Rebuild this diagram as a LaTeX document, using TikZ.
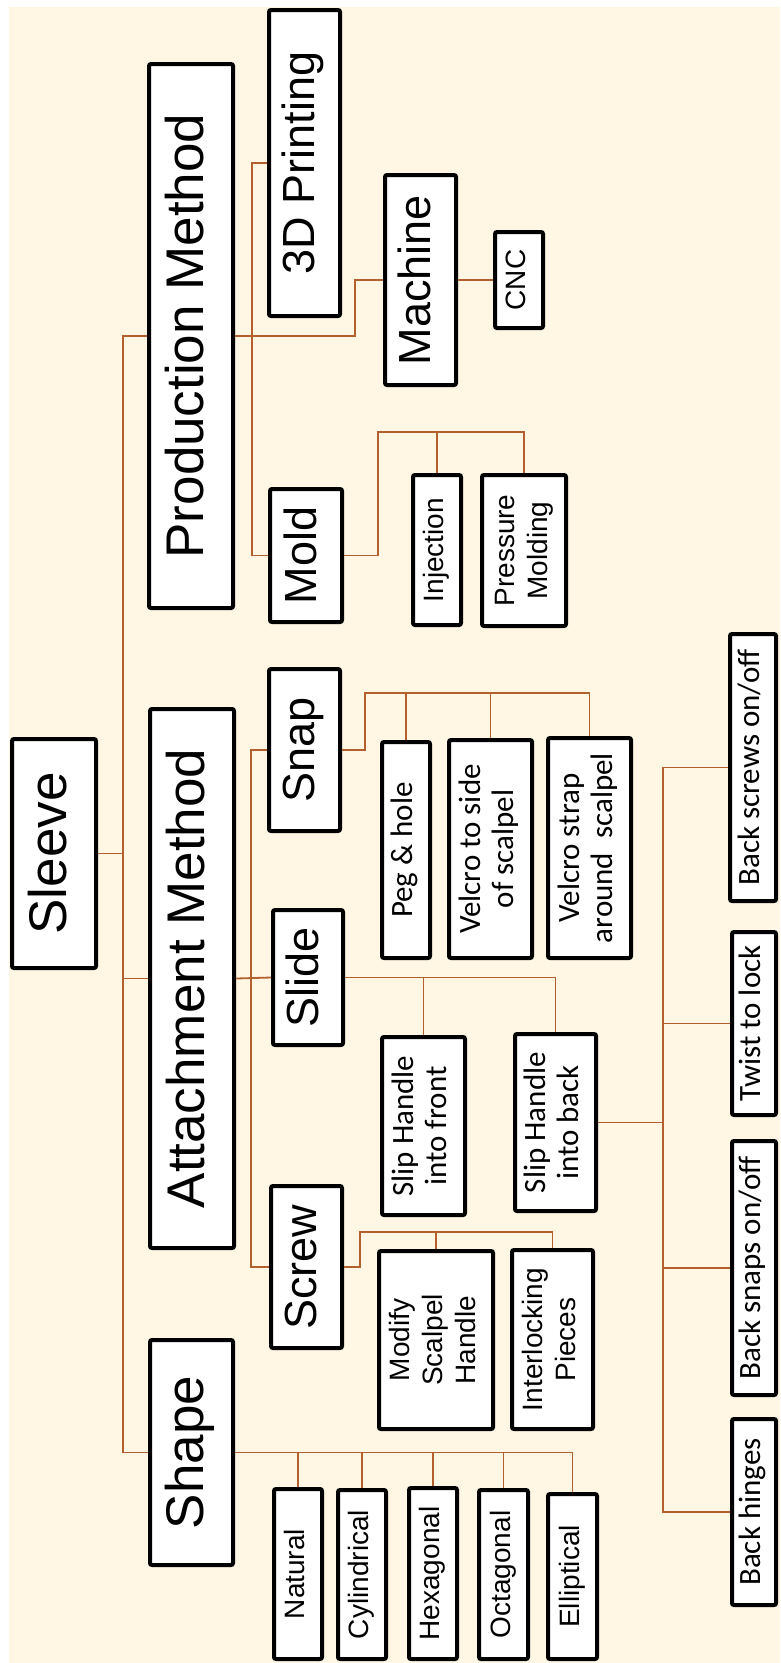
\documentclass[tikz,border=0pt]{standalone}
\usepackage{fontspec}
\setmainfont{Liberation Sans}
\newfontfamily\calfont{Carlito}
\usepackage{tikz}
\usetikzlibrary{positioning}
\definecolor{cream}{HTML}{FFF7E4}
\definecolor{linkc}{HTML}{B4602E}
\newcommand{\vlabel}[1]{\rotatebox{90}{\begin{tabular}{@{}c@{}}#1\end{tabular}}}
\tikzset{
  box/.style={draw=black, fill=white, line width=4pt, rounded corners=2pt, inner sep=0pt},
  title/.style={box, font=\fontsize{53}{60}\selectfont},
  sub/.style={box, font=\fontsize{45}{52}\selectfont},
  leaf/.style={box, font=\fontsize{28}{33}\selectfont},
  cleaf/.style={box, font=\calfont\fontsize{31}{33}\selectfont},
  link/.style={draw=linkc, line width=1.8pt}
}
\begin{document}
\begin{tikzpicture}[x=1pt, y=-1pt]
		\useasboundingbox (0,0) rectangle (780,1663);
		\fill[cream] (9,7) rectangle (780,1663);
		% level 0 and 1
		\node[title, minimum width=84pt, minimum height=229pt] (Sleeve) at (54,853.5) {\vlabel{Sleeve}};
		\node[title, minimum width=84pt, minimum height=544pt] (Prod) at (191,336) {\vlabel{Production Method}};
		\node[title, minimum width=84pt, minimum height=539pt] (Attach) at (192,978.5) {\vlabel{Attachment Method}};
		\node[title, minimum width=83pt, minimum height=225pt] (Shape) at (191.5,1452.5) {\vlabel{Shape}};
		% production
		\node[sub, minimum width=71pt, minimum height=306pt] (Print) at (304.5,163) {\vlabel{3D Printing}};
		\node[sub, minimum width=71pt, minimum height=210pt] (Machine) at (420.5,280) {\vlabel{Machine}};
		\node[sub, minimum width=72pt, minimum height=133pt] (Mold) at (306,555.5) {\vlabel{Mold}};
		\node[leaf, minimum width=48pt, minimum height=96pt] (CNC) at (519,280) {\vlabel{CNC}};
		\node[leaf, minimum width=48pt, minimum height=150pt] (Inj) at (437,550) {\vlabel{Injection}};
		\node[leaf, minimum width=84pt, minimum height=151pt] (Press) at (524,550.5) {\vlabel{Pressure\\Molding}};
		% attachment
		\node[sub, minimum width=71pt, minimum height=162pt] (Snap) at (304.5,750) {\vlabel{Snap}};
		\node[sub, minimum width=70pt, minimum height=135pt] (Slide) at (308,977.5) {\vlabel{Slide}};
		\node[sub, minimum width=71pt, minimum height=162pt] (Screw) at (306.5,1267) {\vlabel{Screw}};
		\node[cleaf, minimum width=48pt, minimum height=216pt] (Peg) at (406,850) {\vlabel{Peg \& hole}};
		\node[cleaf, minimum width=83pt, minimum height=218pt] (Side) at (490.5,849) {\vlabel{Velcro to side\\of scalpel}};
		\node[cleaf, minimum width=83pt, minimum height=220pt] (Strap) at (589.5,848) {\vlabel{Velcro strap\\around\ \ scalpel}};
		\node[cleaf, minimum width=83pt, minimum height=178pt] (SlipF) at (423.5,1126) {\vlabel{Slip Handle\\into front}};
		\node[cleaf, minimum width=81pt, minimum height=177pt] (SlipB) at (555.5,1122.5) {\vlabel{Slip Handle\\into back}};
		\node[leaf, minimum width=114pt, minimum height=178pt] (Modify) at (436,1340) {\vlabel{Modify\\Scalpel\\Handle}};
		\node[leaf, minimum width=81pt, minimum height=179pt] (Inter) at (552.5,1339.5) {\vlabel{Interlocking\\Pieces}};
		\node[cleaf, minimum width=46pt, minimum height=267pt] (BScrews) at (753,767.5) {\vlabel{Back screws on/off}};
		\node[cleaf, minimum width=44pt, minimum height=183pt] (Twist) at (754,1023.5) {\vlabel{Twist to lock}};
		\node[cleaf, minimum width=44pt, minimum height=254pt] (BSnaps) at (754,1268) {\vlabel{Back snaps on/off}};
		\node[cleaf, minimum width=44pt, minimum height=186pt] (BHinges) at (754,1512) {\vlabel{Back hinges}};
		% shape
		\node[leaf, minimum width=48pt, minimum height=170pt] (Natural) at (298,1574) {\vlabel{Natural}};
		\node[leaf, minimum width=48pt, minimum height=169pt] (Cyl) at (362,1574.5) {\vlabel{Cylindrical}};
		\node[leaf, minimum width=48pt, minimum height=171pt] (Hex) at (433,1573.5) {\vlabel{Hexagonal}};
		\node[leaf, minimum width=49pt, minimum height=169pt] (Oct) at (503.5,1574.5) {\vlabel{Octagonal}};
		\node[leaf, minimum width=49pt, minimum height=165pt] (Ell) at (572.5,1576.5) {\vlabel{Elliptical}};
		% bus points
		\coordinate (trunk) at (123,853.5);
		\coordinate (prodbus) at (252,336);
		\coordinate (machbus) at (355,336);
		\coordinate (moldbus) at (378,432);
		\coordinate (attbus) at (251,978.5);
		\coordinate (snapbus) at (365,693);
		\coordinate (screwbus) at (360,1232);
		\coordinate (backbus) at (663,1122.5);
		% connectors
		\draw[link] (Sleeve.east) -- (trunk); \draw[link] (trunk) |- (Prod.west);
		\draw[link] (trunk) |- (Attach.west); \draw[link] (trunk) |- (Shape.west);
		\draw[link] (Prod.east) -- (machbus) |- (Machine.west);
		\draw[link] (prodbus) |- (Print.west); \draw[link] (prodbus) |- (Mold.west);
		\draw[link] (Machine.east) -- (CNC.west);
		\draw[link] (Mold.east) -| (moldbus) -| (Press.north);
		\draw[link] (Inj.north) -- (Inj.north |- moldbus);
		\draw[link] (Attach.east) -- (Slide.west);
		\draw[link] (attbus) |- (Snap.west); \draw[link] (attbus) |- (Screw.west);
		\draw[link] (Snap.east) -| (snapbus) -| (Strap.north);
		\draw[link] (Peg.north) -- (Peg.north |- snapbus);
		\draw[link] (Side.north) -- (Side.north |- snapbus);
		\draw[link] (Slide.east) -| (SlipB.north);
		\draw[link] (SlipF.north) -- (SlipF.north |- Slide.east);
		\draw[link] (Screw.east) -| (screwbus) -| (Inter.north);
		\draw[link] (Modify.north) -- (Modify.north |- screwbus);
		\draw[link] (SlipB.east) -- (backbus);
		\draw[link] (backbus) |- (BScrews.west); \draw[link] (backbus) |- (Twist.west);
		\draw[link] (backbus) |- (BSnaps.west); \draw[link] (backbus) |- (BHinges.west);
		\draw[link] (Shape.east) -| (Ell.north);
		\draw[link] (Natural.north) -- (Natural.north |- Shape.east);
		\draw[link] (Cyl.north) -- (Cyl.north |- Shape.east);
		\draw[link] (Hex.north) -- (Hex.north |- Shape.east);
		\draw[link] (Oct.north) -- (Oct.north |- Shape.east);
\end{tikzpicture}
\end{document}
